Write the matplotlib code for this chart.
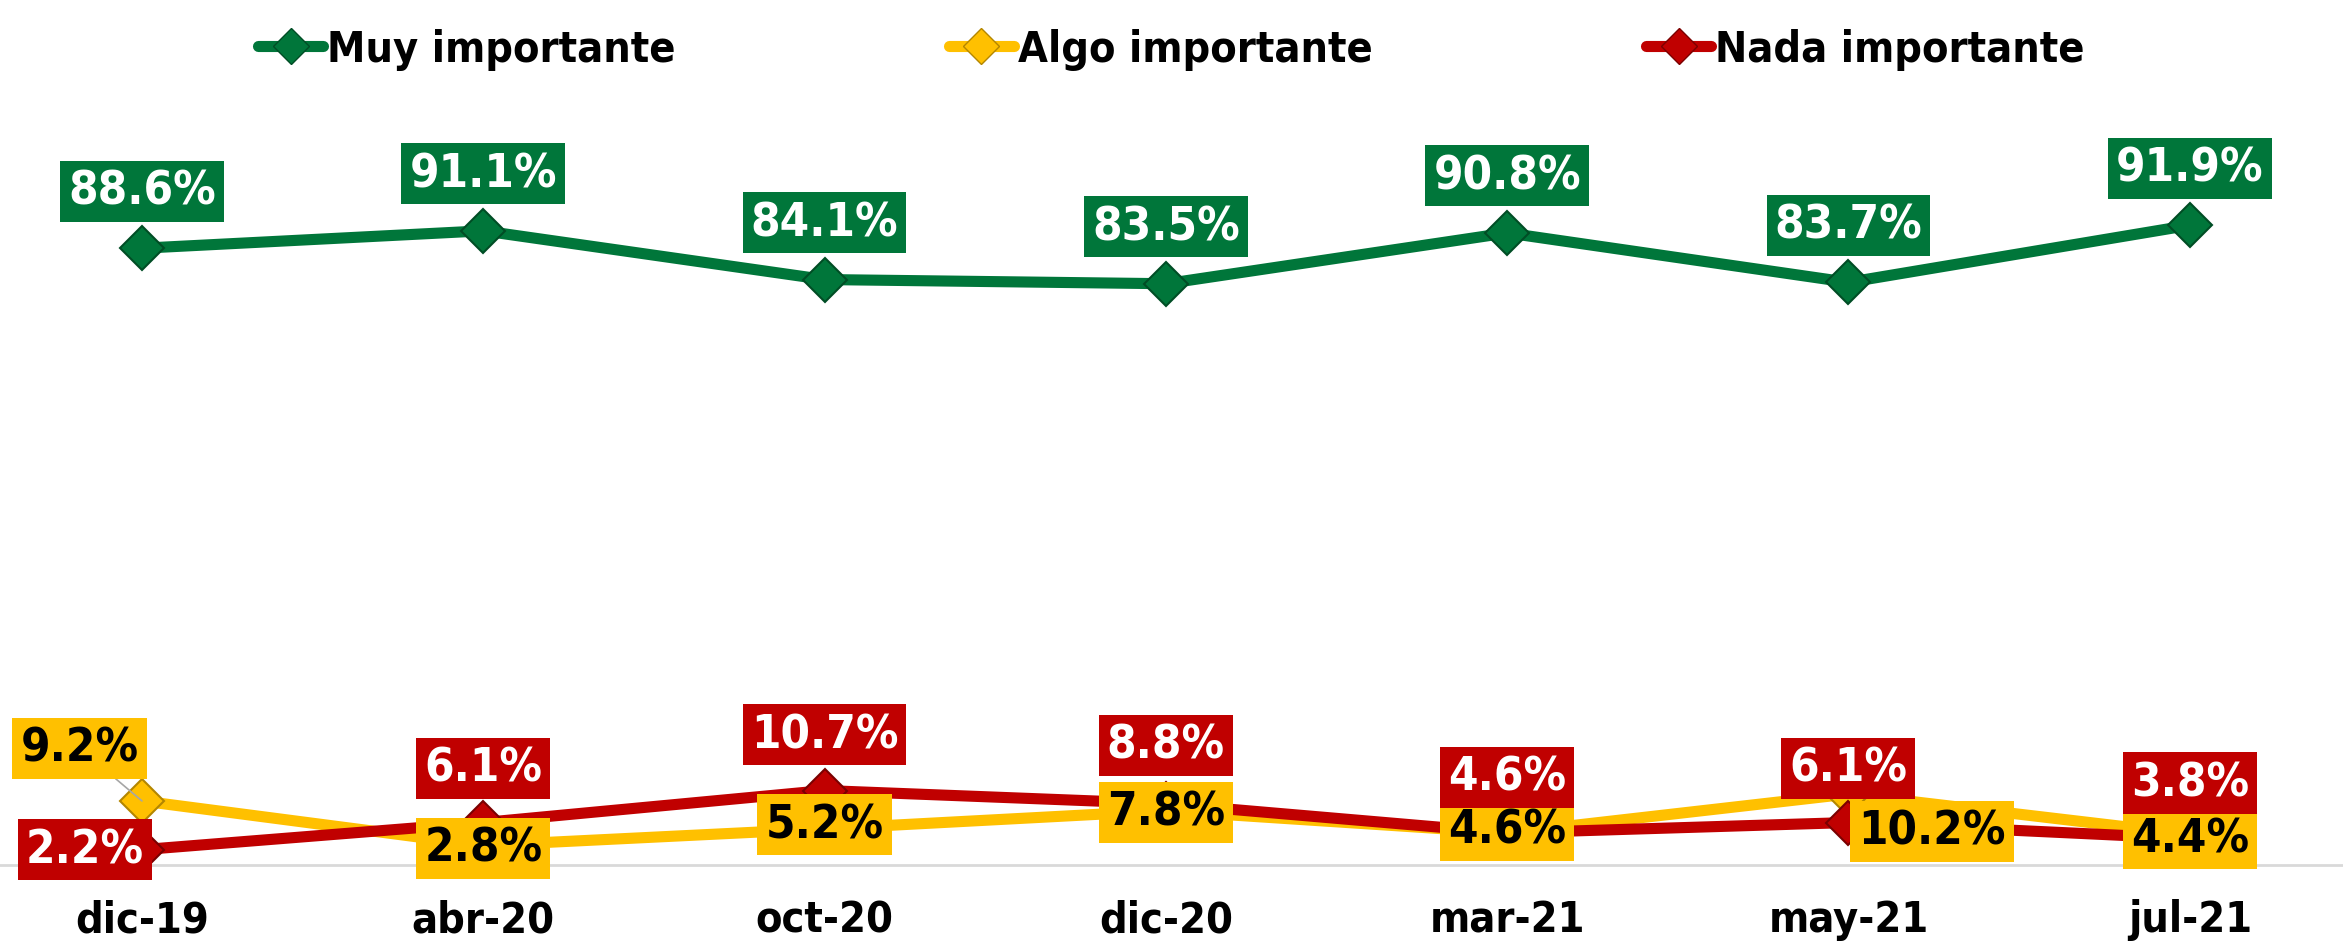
import numpy as np
import matplotlib
matplotlib.use("Agg")
from matplotlib import pyplot as plt
from matplotlib.lines import Line2D

fechas = ['dic-19', 'abr-20', 'oct-20', 'dic-20', 'mar-21', 'may-21', 'jul-21']
muy = [88.6, 91.1, 84.1, 83.5, 90.8, 83.7, 91.9]
algo = [9.2, 2.8, 5.2, 7.8, 4.6, 10.2, 4.4]
nada = [2.2, 6.1, 10.7, 8.8, 4.6, 6.1, 3.8]

verde = '#00763A'
amarillo = '#FFC000'
rojo = '#C00000'

# label offsets in points (dx, dy)
off_muy = [(0, 41)] * 7
off_algo = [(-45, 38), (0, -2), (0, 3), (0, -1), (0, 2), (60, -27), (0, -3)]
off_nada = [(-41, 0), (0, 39), (0, 40), (0, 42), (0, 40), (0, 39), (0, 40)]

plt.rcParams['font.family'] = 'DejaVu Sans'
fs = 31
fs_lab = 34

fig = plt.figure(figsize=(23.43, 9.45), dpi=100)
ax = fig.add_axes([0, 79 / 945, 1, 866 / 945])
x = np.arange(len(fechas))

series = [
    (muy, verde, '#004d25', 'white', off_muy, 'Muy importante'),
    (algo, amarillo, '#b38600', 'black', off_algo, 'Algo importante'),
    (nada, rojo, '#7a0000', 'white', off_nada, 'Nada importante'),
]

for vals, col, dark, tcol, offs, name in series:
    ax.plot(x, vals, color=col, lw=8, marker='D', markersize=22,
            markerfacecolor=col, markeredgecolor=dark, markeredgewidth=1.5,
            solid_capstyle='round', zorder=3)

for vals, col, dark, tcol, offs, name in series:
    for i, v in enumerate(vals):
        dx, dy = offs[i]
        arrow = None
        if abs(dx) > 30 and abs(dy) > 30:
            arrow = dict(arrowstyle='-', color='#A6A6A6', lw=1.2, shrinkA=0, shrinkB=0)
        ax.annotate(f'{v:.1f}%', (x[i], v), xytext=(dx, dy), textcoords='offset points',
                    ha='center', va='center', fontsize=fs_lab, fontweight='bold',
                    fontstretch='condensed', color=tcol, zorder=5,
                    bbox=dict(boxstyle='square,pad=0.17', fc=col, ec='none'),
                    arrowprops=arrow)

ax.set_xlim(-0.416, 6.449)
ax.set_ylim(0, 124.4)
ax.set_xticks(x)
ax.set_xticklabels(fechas, fontsize=fs, fontweight='bold', fontstretch='condensed')
ax.tick_params(axis='x', length=0, pad=24)
ax.set_yticks([])
for s in ['top', 'right', 'left']:
    ax.spines[s].set_visible(False)
ax.spines['bottom'].set_color('#D9D9D9')
ax.spines['bottom'].set_linewidth(2)

handles = [Line2D([0], [0], color=c, lw=8, marker='D', markersize=18,
                  markerfacecolor=c, markeredgecolor=d, solid_capstyle='round')
           for _, c, d, _, _, _ in series]
fig.legend(handles, [s[5] for s in series], loc='upper center', ncol=3,
           bbox_to_anchor=(0.5, 1.01), frameon=False, handlelength=1.5,
           handletextpad=0.1, columnspacing=6.35,
           prop={'size': fs, 'weight': 'bold', 'stretch': 'condensed'})

fig.savefig('out.png', dpi=100)
